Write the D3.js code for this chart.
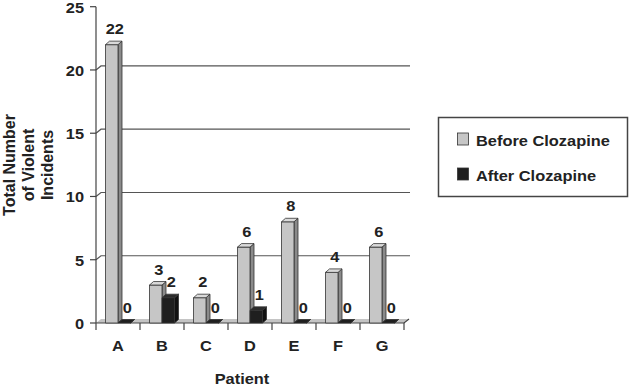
<!DOCTYPE html>
<html>
<head>
<meta charset="utf-8">
<script src="https://cdn.jsdelivr.net/npm/d3@7"></script>
<style>
  body { margin: 0; background: #fff; }
  text { font-family: "Liberation Sans", Arial, sans-serif; font-weight: bold; fill: #222; }
</style>
</head>
<body>
<svg width="630" height="387"></svg>
<script>
const patients = ['A', 'B', 'C', 'D', 'E', 'F', 'G'];
const before = [22, 3, 2, 6, 8, 4, 6];
const after = [0, 2, 0, 1, 0, 0, 0];
const seriesNames = ['Before Clozapine', 'After Clozapine'];
const yTicks = [0, 5, 10, 15, 20, 25];
const gridValues = [5, 10, 15, 20];

const svg = d3.select('svg');
const plotLeft = 96, plotRight = 404, plotBottom = 323, plotTop = 6.7;
const wdx = 5, wdy = -4;     // back wall offset
const bdx = 4, bdy = -3.5;   // bar depth
const barW = 12.5;
const stretch = 1.13;        // text in the original is a bit wide

const xScale = d3.scaleBand().domain(patients).range([plotLeft, plotRight]).padding(0);
const yScale = d3.scaleLinear().domain([0, 25]).range([plotBottom, plotTop]);

const colors = [
    { front: '#c6c6c6', top: '#dadada', side: '#8a8a8a' },
    { front: '#1f1f1f', top: '#2c2c2c', side: '#111' }
];

const addText = (x, y, str, anchor) =>
    svg.append('text')
        .attr('transform', `translate(${x},${y}) scale(${stretch},1)`)
        .attr('text-anchor', anchor || 'middle')
        .style('font-size', '14.5px')
        .text(str);

// floor
svg.append('path')
    .attr('d', `M${plotLeft},${plotBottom}L${plotRight},${plotBottom}L${plotRight + wdx},${plotBottom + wdy}L${plotLeft + wdx},${plotBottom + wdy}Z`)
    .attr('fill', '#c4c4c4');

// gridlines on walls
const grid = svg.append('g').attr('stroke', '#555').attr('stroke-width', 1.2).attr('fill', 'none');
gridValues.forEach(v => {
    const y = yScale(v);
    grid.append('path')
        .attr('d', `M${plotLeft},${y}L${plotLeft + wdx},${y + wdy}L${plotRight + wdx + 1},${y + wdy}`);
});

// y axis
const yAxis = svg.append('g').attr('stroke', '#444').attr('stroke-width', 1.2);
yAxis.append('line').attr('x1', plotLeft).attr('x2', plotLeft).attr('y1', yScale(25)).attr('y2', plotBottom);
yTicks.forEach(v => {
    yAxis.append('line').attr('x1', plotLeft - 6).attr('x2', plotLeft).attr('y1', yScale(v)).attr('y2', yScale(v));
    addText(plotLeft - 12, yScale(v) + 6, v, 'end');
});

// x axis
const xAxis = svg.append('g').attr('stroke', '#444').attr('stroke-width', 1.2).attr('fill', 'none');
xAxis.append('path').attr('d', `M${plotLeft},${plotBottom}L${plotRight},${plotBottom}L${plotRight + wdx},${plotBottom + wdy}`);
patients.forEach(p => {
    const x = xScale(p);
    xAxis.append('line').attr('x1', x).attr('x2', x).attr('y1', plotBottom).attr('y2', plotBottom + 7);
});
xAxis.append('line').attr('x1', plotRight).attr('x2', plotRight).attr('y1', plotBottom).attr('y2', plotBottom + 7);

// bars
const drawBar = (x, v, c) => {
    const y = yScale(v);
    const g = svg.append('g').attr('stroke', '#333').attr('stroke-width', 0.8).attr('stroke-linejoin', 'round');
    g.append('path')
        .attr('d', `M${x + barW},${plotBottom}L${x + barW + bdx},${plotBottom + bdy}L${x + barW + bdx},${y + bdy}L${x + barW},${y}Z`)
        .attr('fill', c.side);
    if (v > 0) {
        g.append('rect')
            .attr('x', x).attr('y', y)
            .attr('width', barW).attr('height', plotBottom - y)
            .attr('fill', c.front);
    }
    g.append('path')
        .attr('d', `M${x},${y}L${x + barW},${y}L${x + barW + bdx},${y + bdy}L${x + bdx},${y + bdy}Z`)
        .attr('fill', v > 0 ? c.top : c.front);
    addText(x + barW / 2 + bdx / 2 + 1, y + bdy - 7, v);
};

patients.forEach((p, i) => {
    const cx = xScale(p) + xScale.bandwidth() / 2;
    drawBar(cx - barW, before[i], colors[0]);
    drawBar(cx, after[i], colors[1]);
});

// category labels
patients.forEach(p => {
    addText(xScale(p) + xScale.bandwidth() / 2, 351, p);
});

addText(242, 384, 'Patient');

const yTitle = ['Total Number', 'of Violent', 'Incidents'];
yTitle.forEach((t, i) => {
    svg.append('text')
        .attr('transform', `translate(${15 + i * 19},165) scale(1.05,1) rotate(-90)`)
        .attr('text-anchor', 'middle')
        .style('font-size', '16px')
        .text(t);
});

// legend
const legend = svg.append('g');
legend.append('rect')
    .attr('x', 438.5).attr('y', 117.5).attr('width', 189).attr('height', 79)
    .attr('fill', 'none').attr('stroke', '#444').attr('stroke-width', 1.5);
seriesNames.forEach((name, i) => {
    const y = 133 + i * 35;
    legend.append('rect')
        .attr('x', 457.5).attr('y', y).attr('width', 11).attr('height', 12)
        .attr('fill', colors[i].front).attr('stroke', '#333').attr('stroke-width', 0.8);
    addText(476, y + 12.5, name, 'start');
});
</script>
</body>
</html>
